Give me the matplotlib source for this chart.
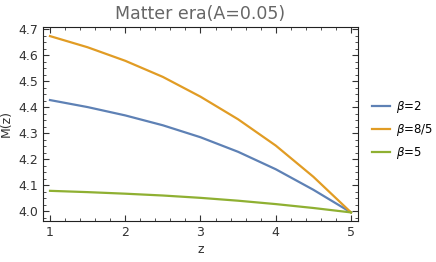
import matplotlib.pyplot as plt
import numpy as np
from matplotlib.ticker import MultipleLocator

# values
z = [1, 1.5, 2, 2.5, 3, 3.5, 4, 4.5, 5]
m_beta2 = [4.427, 4.400, 4.368, 4.330, 4.284, 4.228, 4.161, 4.082, 3.995]
m_beta85 = [4.673, 4.630, 4.578, 4.516, 4.440, 4.353, 4.252, 4.132, 3.995]
m_beta5 = [4.078, 4.073, 4.067, 4.060, 4.051, 4.040, 4.027, 4.012, 3.995]
labels = [r"$\beta$=2", r"$\beta$=8/5", r"$\beta$=5"]
colors = ["#5E81B5", "#E19C24", "#8FB032"]

fig = plt.figure(figsize=(4.36, 2.62), dpi=100)
ax = fig.add_axes([0.0986, 0.1565, 0.7225, 0.7405])

for vals, lab, c in zip([m_beta2, m_beta85, m_beta5], labels, colors):
    ax.plot(z, vals, color=c, lw=1.6, label=lab)

ax.set_xlim(0.907, 5.093)
ax.set_ylim(3.962, 4.708)
ax.xaxis.set_major_locator(MultipleLocator(1))
ax.xaxis.set_minor_locator(MultipleLocator(0.2))
ax.yaxis.set_major_locator(MultipleLocator(0.1))
ax.yaxis.set_minor_locator(MultipleLocator(0.025))
ax.yaxis.set_major_formatter(plt.FuncFormatter(lambda v, p: f"{v:.1f}"))
ax.tick_params(which="both", direction="in", top=True, right=True,
               labelsize=9, labelcolor="#333333", color="#333333")
ax.tick_params(which="major", length=4)
ax.tick_params(which="minor", length=2)
for s in ax.spines.values():
    s.set_color("#222222")

ax.set_title("Matter era(A=0.05)", fontsize=12.5, color="#666666", pad=6)
ax.set_xlabel("z", fontsize=9, color="#333333", labelpad=3)
ax.set_ylabel("M(z)", fontsize=9, color="#333333", labelpad=4)

ax.legend(loc="center left", bbox_to_anchor=(1.03, 0.469), frameon=False,
          fontsize=8.5, handlelength=1.5, labelspacing=0.6, handletextpad=0.55,
          borderaxespad=0)

fig.savefig("out.png", dpi=100)
